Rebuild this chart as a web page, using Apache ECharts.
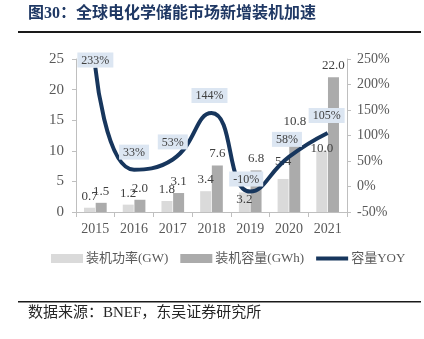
<!DOCTYPE html>
<html>
<head>
<meta charset="utf-8">
<script src="https://cdn.jsdelivr.net/npm/echarts@6/dist/echarts.min.js"></script>
<style>
  html, body { margin: 0; padding: 0; background: #fff; }
  #chart { width: 424px; height: 339px; }
</style>
</head>
<body>
<div id="chart"></div>
<script>
// Global electrochemical storage: new installations per year
const years = ['2015', '2016', '2017', '2018', '2019', '2020', '2021'];
const powerGW = [0.7, 1.2, 1.8, 3.4, 3.2, 5.4, 10.0];
const capacityGWh = [1.5, 2.0, 3.1, 7.6, 6.8, 10.8, 22.0];
const capacityYoY = [233, 33, 53, 144, -10, 58, 105];

// label nudges (px) for crowded bar values
const powerLabelOffsetY = [0, 0, 0, 0, 19, -6, 9];
const capacityLabelOffsetY = [0, 0, 0, 0, 0, -13, 0];
const yoyLabelDistance = [0, 10, 10, 10, 5, 10, 10];
const yoyLabelOffsetX = [0, 0, 0, -2, -4, -2, -1];

const serif = "'Liberation Serif', 'Times New Roman', 'Noto Sans CJK SC', serif";
const axisGray = '#bfbfbf';
const textGray = '#595959';
const navy = '#17365d';

const chart = echarts.init(document.getElementById('chart'), null, { renderer: 'canvas' });

function barData(values, offsets) {
  return values.map((v, i) => ({
    value: v,
    label: { offset: [0, offsets[i]] }
  }));
}

const option = {
  backgroundColor: '#ffffff',
  animation: false,
  grid: { left: 76, right: 77, top: 59, bottom: 127 },
  legend: {
    bottom: 69,
    left: 46,
    itemWidth: 32,
    itemHeight: 9,
    itemGap: 12,
    textStyle: { fontFamily: serif, fontSize: 13, color: textGray, padding: [0, 0, 0, -2] },
    data: [
      { name: '装机功率(GW)', icon: 'rect' },
      { name: '装机容量(GWh)', icon: 'rect' },
      { name: '容量YOY', icon: 'path://M0,0 L32,0 L32,4 L0,4 Z', itemStyle: { color: navy } }
    ]
  },
  xAxis: {
    type: 'category',
    data: years,
    axisLine: { lineStyle: { color: axisGray, width: 1 } },
    axisTick: { show: true, alignWithLabel: false, length: 5, lineStyle: { color: axisGray } },
    axisLabel: { fontFamily: serif, fontSize: 14, color: textGray, margin: 10 }
  },
  yAxis: [
    {
      type: 'value',
      min: 0, max: 25, interval: 5,
      axisLine: { show: true, lineStyle: { color: axisGray } },
      axisTick: { show: true, length: 4, lineStyle: { color: axisGray } },
      splitLine: { show: false },
      axisLabel: { fontFamily: serif, fontSize: 15, color: textGray, margin: 12 }
    },
    {
      type: 'value',
      min: -50, max: 250, interval: 50,
      position: 'right',
      axisLine: { show: true, lineStyle: { color: axisGray } },
      axisTick: { show: true, length: 4, lineStyle: { color: axisGray } },
      splitLine: { show: false },
      axisLabel: { fontFamily: serif, fontSize: 14, color: textGray, margin: 10, formatter: '{value}%' }
    }
  ],
  series: [
    {
      name: '装机功率(GW)',
      type: 'bar',
      yAxisIndex: 0,
      barWidth: 11,
      barGap: '6%',
      itemStyle: { color: '#dadada' },
      label: {
        show: true, position: 'top', distance: 5,
        fontFamily: serif, fontSize: 13, color: '#404040',
        formatter: p => p.value.toFixed(1)
      },
      data: barData(powerGW, powerLabelOffsetY),
      z: 2
    },
    {
      name: '装机容量(GWh)',
      type: 'bar',
      yAxisIndex: 0,
      barWidth: 11,
      itemStyle: { color: '#ababab' },
      label: {
        show: true, position: 'top', distance: 5,
        fontFamily: serif, fontSize: 13, color: '#404040',
        formatter: p => p.value.toFixed(1)
      },
      data: barData(capacityGWh, capacityLabelOffsetY),
      z: 2
    },
    {
      name: '容量YOY',
      type: 'line',
      yAxisIndex: 1,
      smooth: 0.5,
      symbol: 'circle',
      symbolSize: 0.1,
      showSymbol: true,
      lineStyle: { color: navy, width: 4 },
      itemStyle: { color: navy },
      label: {
        show: true, position: 'top',
        fontFamily: serif, fontSize: 12, color: '#404040',
        backgroundColor: '#dce6f2',
        padding: [2, 4, 1, 4],
        formatter: p => p.value + '%'
      },
      data: capacityYoY.map((v, i) => ({
        value: v,
        label: { distance: yoyLabelDistance[i], offset: [yoyLabelOffsetX[i], 0] }
      })),
      z: 5
    }
  ],
  graphic: [
    {
      type: 'text', left: 28, top: 6,
      style: {
        text: '图30：全球电化学储能市场新增装机加速',
        font: "bold 16px 'Liberation Serif', 'Noto Sans CJK SC', serif",
        fill: '#1f3864'
      }
    },
    {
      type: 'rect', shape: { x: 18, y: 31, width: 403, height: 2 },
      style: { fill: '#1a1a1a' }
    },
    {
      type: 'rect', shape: { x: 18, y: 301, width: 403, height: 1.5 },
      style: { fill: '#1a1a1a' }
    },
    {
      type: 'text', left: 28, top: 306,
      style: {
        text: '数据来源：BNEF，东吴证券研究所',
        font: "15px 'Liberation Serif', 'Noto Sans CJK SC', serif",
        fill: '#262626'
      }
    }
  ]
};

chart.setOption(option);
</script>
</body>
</html>
